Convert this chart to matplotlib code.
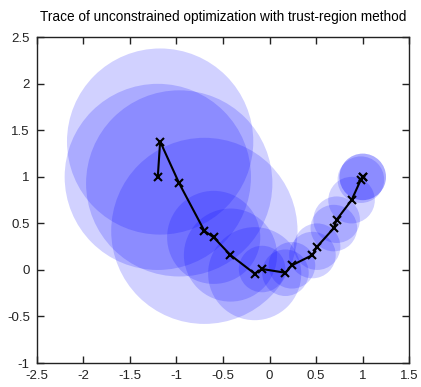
import numpy as np
import matplotlib
matplotlib.use('Agg')
import matplotlib.pyplot as plt
from matplotlib.patches import Circle

plt.rcParams['font.family'] = ['Liberation Sans', 'DejaVu Sans']

# iterates of the trust-region run
x_iter = [-1.2, -1.175, -0.97, -0.70, -0.60, -0.42, -0.16, -0.08, 0.17, 0.24,
          0.46, 0.51, 0.69, 0.72, 0.88, 0.98, 1.0, 1.0]
y_iter = [1.0, 1.38, 0.93, 0.42, 0.35, 0.16, -0.04, 0.01, -0.03, 0.05,
          0.16, 0.25, 0.45, 0.54, 0.75, 0.97, 1.0, 1.0]
# trust region radius at each iterate
radius = [1.0, 1.0, 1.0, 1.0, 0.5, 0.5, 0.5, 0.25, 0.25, 0.25,
          0.25, 0.25, 0.25, 0.25, 0.25, 0.25, 0.25, 0.25]

xticks = [-2.5, -2, -1.5, -1, -0.5, 0, 0.5, 1, 1.5]
yticks = [-1, -0.5, 0, 0.5, 1, 1.5, 2, 2.5]

fig = plt.figure(figsize=(4.21, 3.87), dpi=100)
ax = fig.add_axes([0.0872, 0.062, 0.885, 0.8416])

for xc, yc, r in zip(x_iter, y_iter, radius):
    ax.add_patch(Circle((xc, yc), r, facecolor='blue', edgecolor='none',
                        alpha=0.18, zorder=1))

ax.plot(x_iter, y_iter, color='black', lw=1.5, marker='x', ms=6, mew=1.5,
        zorder=3)

ax.set_xlim(-2.5, 1.5)
ax.set_ylim(-1, 2.5)
ax.set_xticks(xticks)
ax.set_yticks(yticks)
ax.set_xticklabels(['-2.5', '-2', '-1.5', '-1', '-0.5', '0', '0.5', '1', '1.5'])
ax.set_yticklabels(['-1', '-0.5', '0', '0.5', '1', '1.5', '2', '2.5'])
ax.tick_params(direction='in', length=5, width=1, top=True, right=True,
               labelsize=9.5, pad=5, colors='#222222')
for s in ax.spines.values():
    s.set_linewidth(1)
    s.set_color('#222222')

ax.set_title('Trace of unconstrained optimization with trust-region method',
             fontsize=9.8, pad=12)

fig.savefig('out.png', dpi=100)
